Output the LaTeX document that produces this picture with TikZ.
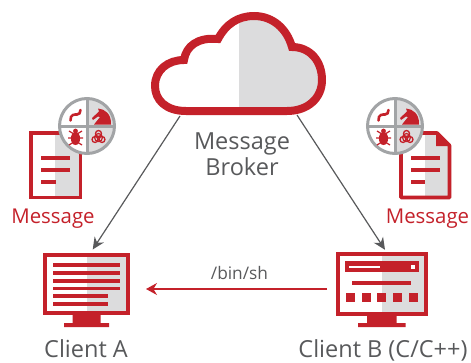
\documentclass[tikz,border=0pt]{standalone}
\usepackage{fontspec}
\setmainfont{Open Sans}
\usetikzlibrary{arrows.meta}
\definecolor{alertred}{HTML}{C4212A}
\definecolor{paneshade}{HTML}{DCDCDD}
\definecolor{slate}{HTML}{58595B}
\definecolor{ringgrey}{HTML}{A2A4A6}
\tikzset{
	label text/.style={text=slate, font=\fontsize{23.5}{27}\selectfont, align=center, inner sep=0pt},
	red text/.style={text=alertred, font=\fontsize{20.4}{24}\selectfont, inner sep=0pt},
	grey arrow/.style={draw=slate, line width=1.2pt, -{Stealth[length=12pt,width=11pt]}},
	red arrow/.style={draw=alertred, line width=1.3pt, -{Stealth[length=11pt,width=12pt]}},
	bar/.style={draw=alertred, line width=3.7pt},
	frame/.style={draw=alertred, line width=4pt},
	threatpie/.pic={
		\fill[white] (0,0) circle[radius=27];
		\begin{scope}
			\clip (0,0) circle[radius=27];
			\fill[paneshade] (0,-30) rectangle (30,30);
		\end{scope}
		\draw[ringgrey, line width=3pt] (0,0) circle[radius=27.5];
		\draw[ringgrey, line width=3pt] (0,-27) -- (0,27) (-27,0) -- (27,0);
		% Gusano
		\draw[alertred, line width=2.6pt, line cap=round] (-16.5,-5.5) .. controls (-17,-12) and (-12,-11.5) .. (-10,-11.5) .. controls (-7.5,-11.5) and (-7,-13) .. (-6.5,-16);
		% Caballo
		\fill[alertred] (11,-17.5) -- (12,-14.5) -- (5,-8) -- (6,-6) -- (11,-9.5) -- (13,-9) -- (7,-1.5) -- (24,-1.5) .. controls (24.5,-12) and (18,-17) .. (11,-17.5) -- cycle;
		% Insecto
		\fill[alertred] (-11.5,12.5) ellipse[x radius=4.6, y radius=6.5];
		\fill[alertred] (-11.5,5) circle[radius=2.4];
		\draw[alertred, line width=1.2pt] (-18,5) -- (-11.5,9) -- (-5,5) (-19,12) -- (-4,12) (-18,19) -- (-11.5,15) -- (-5,19);
		% Biohazard
		\draw[alertred, line width=1.2pt] (11.5,11.5) circle[radius=4];
		\draw[alertred, line width=1.3pt] (11.5,7.5) circle[radius=3] (8,13.5) circle[radius=3] (15,13.5) circle[radius=3];
		\fill[alertred] (11.5,11.5) circle[radius=1.2];
	}
}
\begin{document}
\begin{tikzpicture}[x=1pt, y=-1pt]
	\useasboundingbox (0,0) rectangle (471,362);
	% Extremos de las flechas
		\coordinate (brokerL) at (180,116);
		\coordinate (brokerR) at (297,115);
		\coordinate (clientAtop) at (92.7,249.5);
		\coordinate (clientBtop) at (385,249.8);
		\coordinate (clientAside) at (146,289);
		\coordinate (clientBside) at (327,289);

	% Flechas
		\draw[grey arrow] (brokerL) -- (clientAtop);
		\draw[grey arrow] (brokerR) -- (clientBtop);
		\draw[red arrow] (clientBside) -- (clientAside);
		\node[text=slate, font=\fontsize{17.3}{20}\selectfont, inner sep=0pt] (shell) at (239.5,273) {/bin/sh};

	% Nube
		\begin{scope}
			\clip (186,111) .. controls (166,111) and (155,100) .. (155,86) .. controls (155,70) and (168,60) .. (184,60) .. controls (186,46) and (198,37) .. (218,39) .. controls (226,24) and (238,16) .. (254,16) .. controls (273,16) and (287,29) .. (292,47) .. controls (310,47) and (322,61) .. (322,80) .. controls (322,98) and (308,111) .. (287,111) -- cycle;
			\fill[paneshade] (238.5,0) rectangle (340,120);
		\end{scope}
		\draw[alertred, line width=8pt] (186,111) .. controls (166,111) and (155,100) .. (155,86) .. controls (155,70) and (168,60) .. (184,60) .. controls (186,46) and (198,37) .. (218,39) .. controls (226,24) and (238,16) .. (254,16) .. controls (273,16) and (287,29) .. (292,47) .. controls (310,47) and (322,61) .. (322,80) .. controls (322,98) and (308,111) .. (287,111) -- cycle;
		\node[label text] (broker) at (242,154) {Message\\[-1pt]Broker};

	% Mensaje A
		\fill[paneshade] (55,131) rectangle (82,199);
		\draw[alertred, line width=3.6pt] (31,133) rectangle (80.5,197.5);
		\draw[bar] (41,158) -- (70,158) (41,170) -- (70,170) (41,182) -- (56,182);
		\pic at (87,126) {threatpie};
		\node[red text] (messageA) at (53,219) {Message};

	% Mensaje B
		\fill[paneshade] (425,131) -- (437,131) -- (451,145) -- (451,199) -- (425,199) -- cycle;
		\draw[alertred, line width=3.6pt, line join=round] (401,133) -- (437,133) -- (449.5,145.5) -- (449.5,197.5) -- (401,197.5) -- cycle;
		\fill[alertred] (436,131) -- (451,146) -- (436,146) -- cycle;
		\draw[bar] (411,158) -- (440,158) (411,170) -- (440,170) (411,182) -- (425,182);
		\pic at (395,126) {threatpie};
		\node[red text] (messageB) at (427.5,219) {Message};

	% Cliente A
		\fill[paneshade] (87,255) rectangle (128,313);
		\draw[frame] (45,255) rectangle (128,313);
		\draw[bar] (53,265) -- (120,265) (53,272.8) -- (120,272.8) (53,280.7) -- (120,280.7) (53,288.4) -- (120,288.4) (53,296) -- (108,296) (53,303.8) -- (108,303.8);
		\fill[alertred] (72.7,315) rectangle (100.7,323) (64,323) rectangle (109,327);
		\node[label text] (clientA) at (86,349) {Client A};

	% Cliente B
		\fill[paneshade] (382.3,254) rectangle (426,314);
		\draw[frame] (338,253.7) rectangle (425.7,314);
		\fill[alertred] (345,261) rectangle (418.7,272.3);
		\draw[white, line width=1.8pt] (349,266.7) -- (380,266.7);
		\fill[white] (411,265) rectangle (414.7,268.5);
		\draw[bar] (352,282.7) -- (411,282.7);
		\foreach \px in {346,362,377,393,409}
			\fill[alertred] (\px,293) rectangle ++(9,9);
		\fill[alertred] (367,316) rectangle (396.7,323) (358,323) rectangle (405.7,327);
		\node[label text] (clientB) at (383,350) {Client B (C/C++)};
\end{tikzpicture}
\end{document}
